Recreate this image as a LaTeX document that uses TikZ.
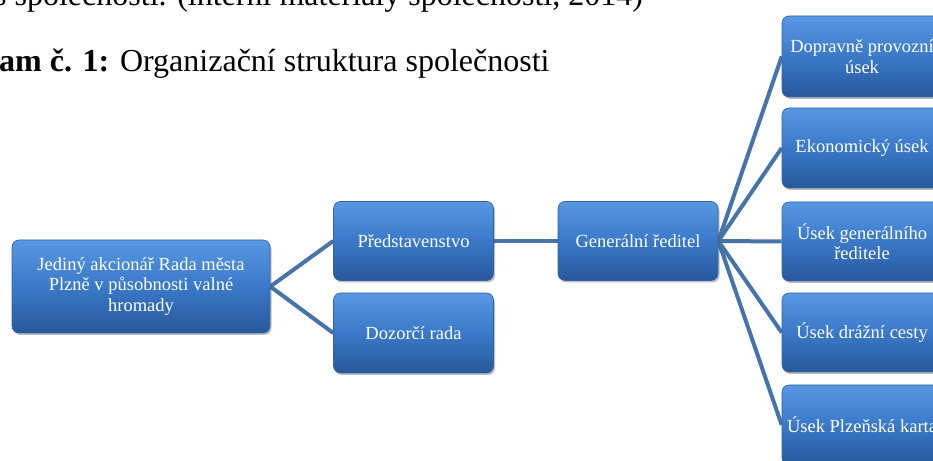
\documentclass[tikz,border=0pt]{standalone}
\usepackage{fontspec}
\setmainfont{Liberation Serif}
\usetikzlibrary{shadows,backgrounds}
\definecolor{linkblue}{RGB}{70,115,168}
\definecolor{boxtop}{RGB}{88,152,226}
\definecolor{boxmid}{RGB}{58,121,200}
\definecolor{boxbot}{RGB}{40,88,155}
\definecolor{boxedge}{RGB}{50,98,165}
\tikzset{
  orgbox/.style={rectangle, rounded corners=7pt, top color=boxtop, bottom color=boxbot, middle color=boxmid,
    draw=boxedge, line width=0.6pt,
    text=white, align=center, inner sep=2pt, minimum width=160pt, minimum height=79pt,
    font=\fontsize{18.5}{20.5}\selectfont,
    drop shadow={shadow xshift=1.5pt, shadow yshift=-2pt, opacity=0.35, fill=black!70}},
  link/.style={draw=linkblue, line width=4pt},
  pagetext/.style={inner sep=0pt, anchor=base west, font=\fontsize{32}{36}\selectfont}
}
\begin{document}
\begin{tikzpicture}[x=1pt,y=1pt]
\useasboundingbox (0,0) rectangle (933,460);
\clip (0,0) rectangle (933,460);
\node[pagetext] (srcline) at (-6,454) {s společnosti. (interní materiály společnosti, 2014)};
\node[pagetext] (title) at (-1,388) {\textbf{am č. 1:} Organizační struktura společnosti};

\node[orgbox, minimum width=258pt, minimum height=93pt] (jed) at (141,173.5) {Jediný akcionář Rada města\\Plzně v působnosti valné\\hromady};
\node[orgbox] (pred) at (413.5,219) {Představenstvo};
\node[orgbox, minimum height=80pt] (doz) at (413.5,127) {Dozorčí rada};
\node[orgbox] (gen) at (638,219) {Generální ředitel};
\node[orgbox, minimum height=81pt] (r1) at (862,403.5) {Dopravně provozní\\úsek};
\node[orgbox, minimum height=80pt] (r2) at (862,312) {Ekonomický úsek};
\node[orgbox] (r3) at (862,218.5) {Úsek generálního\\ředitele};
\node[orgbox] (r4) at (862,127.5) {Úsek drážní cesty};
\node[orgbox, minimum height=80pt] (r5) at (862,35) {Úsek Plzeňská karta};

\begin{scope}[on background layer]
\fill[white] (0,0) rectangle (933,460);
\draw[link] (jed.east) -- (pred.west);
\draw[link] (jed.east) -- (doz.west);
\draw[link] (pred.east) -- (gen.west);
\foreach \r in {r1,r2,r3,r4,r5}{
  \draw[link] (gen.east) -- (\r.west);
}
\end{scope}
\end{tikzpicture}
\end{document}
